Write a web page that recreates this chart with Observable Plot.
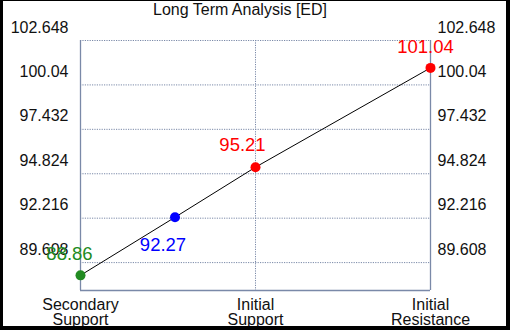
<!DOCTYPE html>
<html>
<head>
<meta charset="utf-8">
<script src="https://cdn.jsdelivr.net/npm/d3@7"></script>
<script src="https://cdn.jsdelivr.net/npm/@observablehq/plot@0.6"></script>
<style>
  html, body { margin: 0; padding: 0; background: #fff; }
  #wrap { position: relative; width: 510px; height: 330px; overflow: hidden; background: #fff; font-family: "Liberation Sans", Arial, sans-serif; }
  #title { position: absolute; left: 0; width: 480px; top: 1px; text-align: center; font-size: 16px; color: #111; line-height: 18px; }
  #frame { position: absolute; left: 0; top: 0; width: 510px; height: 330px; box-sizing: border-box; border-style: solid; border-color: #000; border-width: 1px 4px 4px 3px; pointer-events: none; }
  svg { display: block; }
</style>
</head>
<body>
<div id="wrap">
  <div id="chart"></div>
  <div id="title">Long Term Analysis [ED]</div>
  <div id="frame"></div>
</div>
<script>
const titleText = "Long Term Analysis [ED]";
const categories = ["Secondary\nSupport", "Initial\nSupport", "Initial\nResistance"];
const categoryPositions = [0, 1, 2];
const yTicks = [89.608, 92.216, 94.824, 97.432, 100.04, 102.648];
const yMin = 87.97;
const pointPositions = [0, 0.54, 1, 2];
const pointValues = [88.86, 92.27, 95.21, 101.04];
const pointLabels = ["88.86", "92.27", "95.21", "101.04"];
const pointKinds = ["secondary", "current", "initial", "resistance"];

const pts = pointValues.map((v, i) => ({x: pointPositions[i], y: v, label: pointLabels[i], kind: pointKinds[i], i}));

const axisColor = "#7a89a8";
const font = "Liberation Sans, Arial, sans-serif";

const labelMark = (i, dx, dy) => Plot.text(pts, {
  filter: d => d.i === i, x: "x", y: "y", text: "label", fill: "kind",
  dx, dy, fontSize: 18.5, fontFamily: font
});

const chart = Plot.plot({
  width: 510,
  height: 330,
  marginLeft: 80,
  marginRight: 80,
  marginTop: 40,
  marginBottom: 40,
  style: {fontFamily: font, background: "transparent", overflow: "visible"},
  x: {domain: [0, 2], axis: null},
  y: {domain: [yMin, yTicks[yTicks.length - 1]], axis: null},
  color: {domain: ["secondary", "current", "initial", "resistance"], range: ["#228b22", "#0000ff", "#ff0000", "#ff0000"]},
  marks: [
    Plot.gridY(yTicks, {stroke: axisColor, strokeOpacity: 1, strokeDasharray: "1.2,1.2", strokeWidth: 1}),
    Plot.gridX([1], {stroke: axisColor, strokeOpacity: 1, strokeDasharray: "1.2,1.2", strokeWidth: 1}),
    Plot.ruleX([0, 2], {stroke: axisColor, strokeWidth: 1.3}),
    Plot.ruleY([yMin], {stroke: axisColor, strokeWidth: 1.3}),
    Plot.axisY(yTicks, {anchor: "left", label: null, tickSize: 0, tickPadding: 12, dy: -13, fontSize: 16, fill: "#111", tickFormat: d => String(d)}),
    Plot.axisY(yTicks, {anchor: "right", label: null, tickSize: 0, tickPadding: 7, dy: -13, fontSize: 16, fill: "#111", tickFormat: d => String(d)}),
    Plot.axisX(categoryPositions, {anchor: "bottom", label: null, tickSize: 0, tickPadding: 9, fontSize: 16, fill: "#111", lineHeight: 0.92, tickFormat: d => categories[d]}),
    Plot.line(pts, {x: "x", y: "y", stroke: "#000", strokeWidth: 1}),
    Plot.dot(pts, {x: "x", y: "y", r: 5, fill: "kind", stroke: "none"}),
    labelMark(0, -11, -21),
    labelMark(1, -12, 28),
    labelMark(2, -13, -22),
    labelMark(3, -5, -21)
  ]
});
document.getElementById("chart").appendChild(chart);
document.getElementById("title").textContent = titleText;
</script>
</body>
</html>
